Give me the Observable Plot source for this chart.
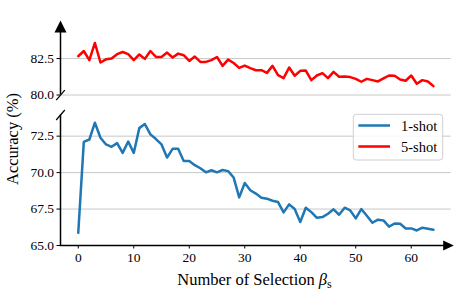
<!DOCTYPE html>
<html><head><meta charset="utf-8">
<script src="https://cdn.jsdelivr.net/npm/d3@7"></script>
<script src="https://cdn.jsdelivr.net/npm/@observablehq/plot@0.6"></script>
<style>body{margin:0;background:#fff} svg text{font-family:'Liberation Serif','Times New Roman',serif}</style>
</head><body><div id="chart"></div>
<script>
const seriesNames = ["1-shot", "5-shot"];
const seriesColors = ["#1f77b4", "#ff0000"];
const oneShot = [65.87,72.11,72.27,73.42,72.39,71.93,71.77,72.02,71.35,72.13,
  71.35,73.05,73.33,72.62,72.30,71.93,71.03,71.63,71.63,70.80,
  70.80,70.51,70.30,70.02,70.16,70.02,70.18,70.10,69.66,68.30,
  69.29,68.79,68.56,68.28,68.21,68.07,67.98,67.27,67.82,67.50,
  66.61,67.59,67.29,66.90,66.95,67.18,67.48,67.11,67.59,67.41,
  66.86,67.50,67.04,66.56,66.77,66.72,66.29,66.51,66.49,66.17,
  66.17,66.03,66.22,66.15,66.08];
const fiveShot = [82.66,83.02,82.39,83.57,82.23,82.45,82.50,82.80,82.95,82.80,
  82.39,82.78,82.48,83.02,82.61,82.61,82.91,82.57,82.84,82.73,
  82.34,82.64,82.27,82.27,82.39,82.61,82.00,82.43,82.20,81.86,
  82.02,81.84,81.70,81.70,81.52,82.00,81.36,81.16,81.89,81.32,
  81.66,81.68,81.02,81.34,81.50,81.16,81.59,81.25,81.27,81.23,
  81.11,80.91,81.11,81.02,80.93,81.14,81.34,81.32,81.07,80.98,
  81.34,80.77,81.02,80.93,80.61];
const xTicks = [0, 10, 20, 30, 40, 50, 60];
const yTicks = [65, 67.5, 70, 72.5, 80, 82.5];
const xDomain = [-3.2, 67.2];
// broken axis: lower panel 65–73.95, upper panel 80–84.7
const lowerPanel = [65, 73.95];
const upperPanel = [80, 84.7];
const gapShift = 4.68; // upper-panel values are shifted down by this to close the gap
const brk = v => (v >= 77 ? v - gapShift : v);
const unbrk = v => (v >= 77 - gapShift + 0.5 ? v + gapShift : v);

const rows = [];
oneShot.forEach((v, i) => rows.push({sel: i, acc: v, series: seriesNames[0]}));
fiveShot.forEach((v, i) => rows.push({sel: i, acc: v, series: seriesNames[1]}));

const arrowUp = {draw(ctx){ ctx.moveTo(0,-6); ctx.lineTo(-6,6); ctx.lineTo(6,6); ctx.closePath(); }};
const arrowRight = {draw(ctx){ ctx.moveTo(2.6,0); ctx.lineTo(-8,-5); ctx.lineTo(-8,5); ctx.closePath(); }};
const slash = {draw(ctx){ ctx.moveTo(-4.3,5); ctx.lineTo(4.3,-5); }};

const font = "'Liberation Serif', 'Times New Roman', serif";
const plot = Plot.plot({
  width: 465, height: 299,
  marginLeft: 60, marginRight: 14.3, marginTop: 26, marginBottom: 54,
  style: {fontFamily: font, fontSize: "13.5px", color: "#000", background: "#fff", overflow: "visible"},
  x: {domain: xDomain, label: null},
  y: {domain: [lowerPanel[0], brk(upperPanel[1])], label: null},
  color: {domain: seriesNames, range: seriesColors},
  marks: [
    Plot.ruleY(yTicks, {y: d => brk(d), stroke: "#c8c8c8", strokeWidth: 1}),
    Plot.axisX({ticks: xTicks, tickSize: 3.5, tickPadding: 3, tickFormat: d => String(d), label: null, strokeWidth: 1}),
    Plot.axisY({ticks: yTicks.map(brk), tickSize: 3.5, tickPadding: 3, tickFormat: v => d3.format(".1f")(unbrk(v)), label: null, strokeWidth: 1}),
    Plot.line(rows, {x: "sel", y: d => brk(d.acc), z: "series", stroke: "series", strokeWidth: 2.5, strokeLinejoin: "round"}),
    // spines
    Plot.ruleY([lowerPanel[0]], {x1: xDomain[0], x2: xDomain[1], stroke: "#000", strokeWidth: 1.5}),
    Plot.ruleX([xDomain[0]], {y1: brk(lowerPanel[0]), y2: brk(lowerPanel[1]), stroke: "#000", strokeWidth: 1.5}),
    Plot.ruleX([xDomain[0]], {y1: brk(upperPanel[0]), y2: brk(upperPanel[1]), stroke: "#000", strokeWidth: 1.5}),
    Plot.dot([upperPanel[1]], {x: () => xDomain[0], y: d => brk(d), symbol: arrowUp, r: 1, fill: "#000", stroke: "none"}),
    Plot.dot([lowerPanel[0]], {x: () => xDomain[1], y: d => brk(d), symbol: arrowRight, r: 1, fill: "#000", stroke: "none"}),
    Plot.dot([lowerPanel[1], upperPanel[0]], {x: () => xDomain[0], y: d => brk(d), symbol: slash, r: 1, fill: "none", stroke: "#000", strokeWidth: 1.2})
  ]
});

const svg = d3.select(plot);
// axis labels
svg.append("text")
  .attr("transform", "translate(17.5,139) rotate(-90)")
  .attr("text-anchor", "middle")
  .style("font-size", "16.5px").attr("fill", "#000")
  .text("Accuracy (%)");
const xl = svg.append("text")
  .attr("x", 254.5).attr("y", 284.5)
  .attr("text-anchor", "middle")
  .style("font-size", "16.5px").attr("fill", "#000");
xl.append("tspan").text("Number of Selection ");
xl.append("tspan").attr("font-style", "italic").text("β");
xl.append("tspan").attr("font-size", "12px").attr("dy", "3").text("s");

// legend
const color = plot.scale("color");
const lg = svg.append("g").attr("text-anchor", "start");
lg.append("rect").attr("x", 353.3).attr("y", 114.3).attr("width", 89.4).attr("height", 45.7)
  .attr("rx", 3).attr("fill", "#fff").attr("fill-opacity", 0.85).attr("stroke", "#d0d0d0").attr("stroke-width", 1);
color.domain.forEach((name, i) => {
  const cy = 125.5 + i * 21;
  lg.append("line").attr("x1", 358.3).attr("x2", 390).attr("y1", cy).attr("y2", cy)
    .attr("stroke", color.range[i]).attr("stroke-width", 2.5);
  lg.append("text").attr("x", 401).attr("y", cy + 5).attr("text-anchor", "start")
    .style("font-size", "14.5px").attr("fill", "#000").text(name);
});

document.getElementById("chart").appendChild(plot);
</script>
</body></html>
